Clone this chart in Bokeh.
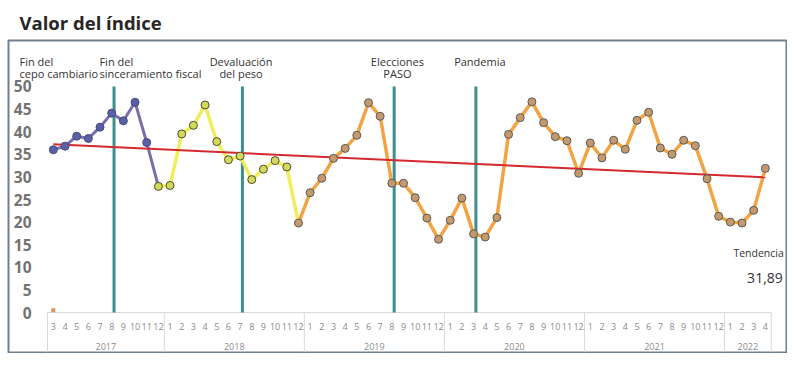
from bokeh.plotting import figure
from bokeh.models import Range1d
from bokeh.core.properties import value
from bokeh.embed import file_html
from bokeh.resources import INLINE

# ---------------- data ----------------
years = ["2017", "2018", "2019", "2020", "2021", "2022"]
months_per_year = [list(range(3, 13)), list(range(1, 13)), list(range(1, 13)),
                   list(range(1, 13)), list(range(1, 13)), list(range(1, 5))]
values = [36.0, 36.8, 39.0, 38.5, 41.0, 44.1, 42.4, 46.5, 37.6, 27.9,
          28.1, 39.5, 41.4, 45.9, 37.8, 33.8, 34.6, 29.4, 31.7, 33.6, 32.2, 19.8,
          26.5, 29.7, 34.1, 36.3, 39.2, 46.4, 43.4, 28.6, 28.6, 25.4, 20.9, 16.2,
          20.4, 25.3, 17.4, 16.7, 21.0, 39.4, 43.1, 46.6, 42.0, 38.9, 38.0, 30.8,
          37.5, 34.2, 38.1, 36.1, 42.5, 44.3, 36.4, 35.0, 38.1, 36.9, 29.6, 21.3,
          20.0, 19.8, 22.6, 31.89]
# last point of each coloured phase (purple 2017, yellow 2018, orange after)
phase_last = [9, 21]
trend_start = 37.2
trend_end = 29.9
trend_label = "31,89"
stray_value = 0.5
events = [("2017", 8), ("2018", 7), ("2019", 8), ("2020", 3)]
event_lines = [["Fin del", "cepo cambiario"],
               ["Fin del", "sinceramiento fiscal"],
               ["Devaluación", "del peso"],
               ["Elecciones", "PASO"],
               ["Pandemia"]]
event_align = ["left", "left", "center", "center", "center"]
y_ticks = [0, 5, 10, 15, 20, 25, 30, 35, 40, 45, 50]

# ---------------- derived positions ----------------
month_labels = [str(m) for ms in months_per_year for m in ms]
idx = list(range(len(values)))
lookup = {}
k = 0
for yr, ms in zip(years, months_per_year):
    for m in ms:
        lookup[(yr, m)] = k
        k += 1
year_centers = []
year_bounds = [-0.5]
k = 0
for ms in months_per_year:
    year_centers.append(k + (len(ms) - 1) / 2)
    k += len(ms)
    year_bounds.append(k - 0.5)

FONT = value("Open Sans")

p = figure(width=787, height=353, output_backend="svg", toolbar_location=None,
           x_range=Range1d(-3.841, 62.81), y_range=Range1d(-8.83, 60.16),
           min_border_left=8, min_border_right=1, min_border_top=40,
           min_border_bottom=1, x_axis_location=None, y_axis_location=None,
           title="Valor del índice")
p.outline_line_color = "#6e7f8d"
p.outline_line_width = 2
p.xgrid.visible = False
p.ygrid.visible = False
p.title.text_font = "Open Sans"
p.title.text_font_style = "bold"
p.title.text_font_size = "18.5px"
p.title.text_color = "#262626"
p.title.align = "left"
p.title.offset = 11
p.title.standoff = 11

# y tick labels
p.text(x=[-1.87] * len(y_ticks), y=y_ticks, text=[str(t) for t in y_ticks],
       text_font=FONT, text_font_style="bold", text_font_size="15.5px",
       text_color="#737373", text_align="right", text_baseline="middle")

# category axis: base line, separators, month & year labels
p.segment(x0=[-0.5], y0=[0], x1=[61.5], y1=[0], line_color="#d9d9d9", line_width=1)
p.segment(x0=year_bounds, y0=[0] * len(year_bounds), x1=year_bounds,
          y1=[-8.83] * len(year_bounds), line_color="#d9d9d9", line_width=1)
p.text(x=idx, y=[-3.09] * len(idx), text=month_labels, text_font=FONT,
       text_font_size="9px", text_color="#8a8a8a", text_align="center",
       text_baseline="middle")
p.text(x=year_centers, y=[-7.40] * len(years), text=years, text_font=FONT,
       text_font_size="9px", text_color="#8a8a8a", text_align="center",
       text_baseline="middle")

# event lines
ev_x = [lookup[e] + 0.2 for e in events]
p.segment(x0=ev_x, y0=[0] * len(ev_x), x1=ev_x, y1=[50] * len(ev_x),
          line_color="#3f8e8e", line_width=3)

# lines per phase
a, b = phase_last
p.line(idx[:a + 1], values[:a + 1], line_color="#7a6fab", line_width=3)
p.line(idx[a:b + 1], values[a:b + 1], line_color="#f0ee5a", line_width=3.5)
p.line(idx[b:], values[b:], line_color="#f2a444", line_width=3.5)

# trend
p.line([idx[0], idx[-1]], [trend_start, trend_end], line_color="#d42a2f", line_width=2)

# markers
p.scatter(idx[:a], values[:a], size=8, fill_color="#5a60a3", line_color="#454c85", line_width=1)
p.scatter(idx[a:b], values[a:b], size=8, fill_color="#d3d959", line_color="#4d4d33", line_width=1)
p.scatter(idx[b:], values[b:], size=8, fill_color="#c49a6c", line_color="#5a5a5a", line_width=1)
p.scatter([idx[0]], [stray_value], marker="square", size=4, fill_color="#d4955e", line_color=None)

# event annotation texts
text_x = [-2.90, 3.95, 16.08, 29.48, 36.54]
line_y = [55.52, 52.76]
for lines, align, tx in zip(event_lines, event_align, text_x):
    p.text(x=[tx] * len(lines), y=line_y[:len(lines)], text=lines, text_font=FONT,
           text_font_size="11px", text_color="#333333", text_align=align,
           text_baseline="alphabetic")

p.text(x=[62.58], y=[13.27], text=["Tendencia"], text_font=FONT, text_font_size="10.5px",
       text_color="#333333", text_align="right", text_baseline="alphabetic")
p.text(x=[62.49], y=[7.68], text=[trend_label], text_font=FONT, text_font_size="14px",
       text_color="#333333", text_align="right", text_baseline="alphabetic")

open("out.html", "w").write(file_html(p, INLINE))
